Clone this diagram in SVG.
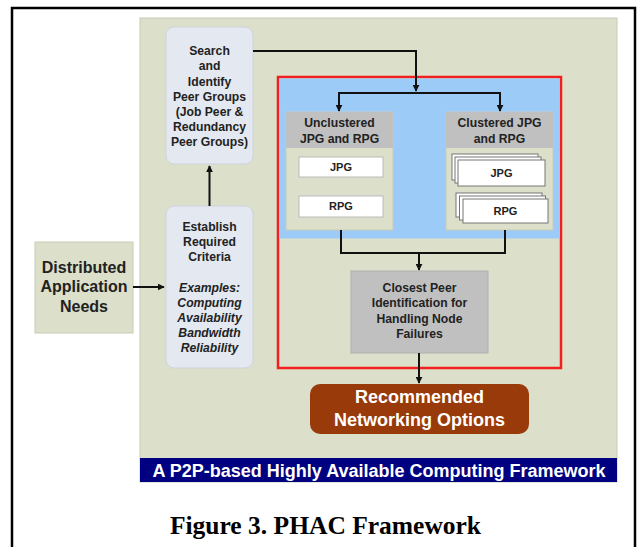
<svg xmlns="http://www.w3.org/2000/svg" width="640" height="547" viewBox="0 0 640 547">
<defs>
<marker id="ah" viewBox="0 0 10 10" refX="9" refY="5" markerWidth="7" markerHeight="7" markerUnits="userSpaceOnUse" orient="auto"><path d="M0,0 L10,5 L0,10 z" fill="#111"/></marker>
<style>
text{font-family:"Liberation Sans",Arial,sans-serif;font-weight:bold;fill:#222;text-anchor:middle}
.s13{font-size:12.2px}
.it{font-style:italic}
.beige{fill:#dcdfc9;stroke:#c8cbb6;stroke-width:1}
.pale{fill:#e4e8f0;stroke:#cfd3dc;stroke-width:1}
.hdr{fill:#c0c0c0}
.wb{fill:#fff;stroke:#bbb;stroke-width:1}
.wbd{fill:#fff;stroke:#777;stroke-width:1}
.con{fill:none;stroke:#111;stroke-width:2}
</style>
</defs>
<rect x="0" y="0" width="640" height="547" fill="#fff"/>
<rect x="12" y="8" width="623" height="560" fill="none" stroke="#000" stroke-width="2.5"/>
<g id="frame">
<rect x="140" y="18" width="477" height="464" class="beige"/>
<rect x="140" y="458" width="477" height="24" fill="#000080"/>
<text x="379" y="477" style="font-size:18px;fill:#fff">A P2P-based Highly Available Computing Framework</text>
</g>
<g id="caption"><text x="325.5" y="534" style="font-family:'Liberation Serif','Times New Roman',serif;font-size:25.5px;fill:#000">Figure 3. PHAC Framework</text></g>
<g id="red-frame">
<rect x="278" y="77" width="283" height="291" fill="none" stroke="#f21f1f" stroke-width="2.5"/>
<rect x="279.5" y="78.5" width="280" height="160" fill="#9ccbf7"/>
</g>
<g id="distributed">
<rect x="35" y="242" width="98" height="91" class="beige"/>
<text x="84" y="273" style="font-size:16px">Distributed</text>
<text x="84" y="292" style="font-size:16px">Application</text>
<text x="84" y="312" style="font-size:16px">Needs</text>
</g>
<g id="establish">
<rect x="166" y="206" width="87" height="162" rx="8" class="pale"/>
<text class="s13" x="209.5" y="231">Establish</text>
<text class="s13" x="209.5" y="246">Required</text>
<text class="s13" x="209.5" y="261">Criteria</text>
<text class="s13 it" x="209.5" y="292">Examples:</text>
<text class="s13 it" x="209.5" y="307">Computing</text>
<text class="s13 it" x="209.5" y="322">Availability</text>
<text class="s13 it" x="209.5" y="337">Bandwidth</text>
<text class="s13 it" x="209.5" y="352">Reliability</text>
</g>
<g id="search">
<rect x="166" y="27" width="87" height="137" rx="8" class="pale"/>
<text class="s13" x="209.5" y="55">Search</text>
<text class="s13" x="209.5" y="70">and</text>
<text class="s13" x="209.5" y="86">Identify</text>
<text class="s13" x="209.5" y="101">Peer Groups</text>
<text class="s13" x="209.5" y="116">(Job Peer &amp;</text>
<text class="s13" x="209.5" y="131">Redundancy</text>
<text class="s13" x="209.5" y="146">Peer Groups)</text>
</g>
<g id="unclustered">
<rect x="286" y="112" width="107" height="118" class="beige"/>
<rect x="286" y="112" width="107" height="36" class="hdr"/>
<text class="s13" x="339.5" y="127">Unclustered</text>
<text class="s13" x="339.5" y="143">JPG and RPG</text>
<rect x="299" y="157" width="84" height="20" class="wb"/>
<text x="341" y="171" style="font-size:11px">JPG</text>
<rect x="299" y="196" width="84" height="21" class="wb"/>
<text x="341" y="210" style="font-size:11px">RPG</text>
</g>
<g id="clustered">
<rect x="446" y="112" width="107" height="118" class="beige"/>
<rect x="446" y="112" width="107" height="36" class="hdr"/>
<text class="s13" x="499.5" y="127">Clustered JPG</text>
<text class="s13" x="499.5" y="143">and RPG</text>
<rect x="452" y="154" width="86" height="26" class="wbd"/>
<rect x="455" y="157" width="86" height="26" class="wbd"/>
<rect x="458" y="160" width="87" height="26" class="wbd"/>
<text x="501.5" y="177" style="font-size:11px">JPG</text>
<rect x="456" y="193" width="86" height="24" class="wbd"/>
<rect x="459.5" y="196" width="86" height="24" class="wbd"/>
<rect x="463" y="199" width="85" height="24" class="wbd"/>
<text x="505.5" y="215" style="font-size:11px">RPG</text>
</g>
<g id="closest">
<rect x="351" y="271" width="137" height="82" fill="#c0c0c0" stroke="#b0b0b0"/>
<text class="s13" x="419.5" y="292">Closest Peer</text>
<text class="s13" x="419.5" y="307">Identification for</text>
<text class="s13" x="419.5" y="323">Handling Node</text>
<text class="s13" x="419.5" y="338">Failures</text>
</g>
<g id="recommended">
<rect x="310" y="384" width="219" height="50" rx="10" fill="#993a0a"/>
<text x="419.5" y="403" style="font-size:18px;fill:#fff">Recommended</text>
<text x="419.5" y="426" style="font-size:18px;fill:#fff">Networking Options</text>
</g>
<g id="connectors">
<line x1="133" y1="287" x2="164" y2="287" class="con" marker-end="url(#ah)"/>
<line x1="209.5" y1="206" x2="209.5" y2="166" class="con" marker-end="url(#ah)"/>
<polyline points="253,51 416,51 416,91" class="con" marker-end="url(#ah)"/>
<polyline points="339,111 339,93 500,93 500,111" class="con"/>
<line x1="339" y1="100" x2="339" y2="111" class="con" marker-end="url(#ah)"/>
<line x1="500" y1="100" x2="500" y2="111" class="con" marker-end="url(#ah)"/>
<polyline points="341,230 341,253 505,253 505,230" class="con"/>
<line x1="419" y1="253" x2="419" y2="270" class="con" marker-end="url(#ah)"/>
<line x1="419" y1="353" x2="419" y2="383" class="con" marker-end="url(#ah)"/>
</g>
</svg>
